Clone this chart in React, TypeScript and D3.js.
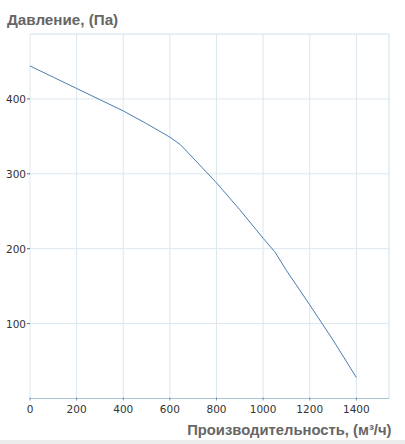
import React from "react";
import * as d3 from "d3";

const flowValues = [0, 100, 200, 300, 400, 500, 600, 645, 700, 800, 900, 1000, 1050, 1100, 1200, 1300, 1400];
const pressureValues = [444, 429, 414, 399, 384, 367, 349, 339, 321, 288, 252, 214, 196, 171, 125, 78, 28];
const xTicks = [0, 200, 400, 600, 800, 1000, 1200, 1400];
const yTicks = [100, 200, 300, 400];
const yTitle = "Давление, (Па)";
const xTitle = "Производительность, (м³/ч)";

const W = 405;
const H = 444;
const left = 30;
const right = 389;
const top = 34;
const bottom = 398.5;

export default function App() {
  const x = d3.scaleLinear().domain([0, 1540]).range([left, right]);
  const y = d3.scaleLinear().domain([0, 486.7]).range([bottom, top]);
  const pts: [number, number][] = flowValues.map((f, i) => [f, pressureValues[i]]);
  const line = d3
    .line<[number, number]>()
    .x((d) => x(d[0]))
    .y((d) => y(d[1]));
  const gridColor = "#dde7ee";
  const font = "'DejaVu Sans', Verdana, sans-serif";
  return (
    <svg
      width={W}
      height={H}
      style={{ position: "absolute", left: 0, top: 0, background: "#fff" }}
    >
      <rect x={0} y={440} width={W} height={4} fill="#ececec" />
      {xTicks.map((t) => (
        <line key={"vx" + t} x1={x(t)} x2={x(t)} y1={top} y2={bottom} stroke={gridColor} strokeWidth={1} />
      ))}
      <line x1={right} x2={right} y1={top} y2={bottom} stroke="#cfe0e8" strokeWidth={1} />
      {yTicks.map((t) => (
        <line key={"hy" + t} x1={left} x2={right} y1={y(t)} y2={y(t)} stroke={gridColor} strokeWidth={1} />
      ))}
      <line x1={left} x2={right} y1={top} y2={top} stroke="#cfe0e8" strokeWidth={1} />
      <line x1={left} x2={right} y1={bottom} y2={bottom} stroke="#a9c3d6" strokeWidth={1} />
      {xTicks.map((t) => (
        <line key={"xt" + t} x1={x(t)} x2={x(t)} y1={bottom - 1} y2={bottom + 2} stroke="#6f95b5" strokeWidth={1} />
      ))}
      {yTicks.map((t) => (
        <line key={"yt" + t} x1={left - 3} x2={left} y1={y(t)} y2={y(t)} stroke="#4a6f95" strokeWidth={1} />
      ))}
      <path d={line(pts) || ""} fill="none" stroke="#4a7db0" strokeWidth={1} />
      {xTicks.map((t) => (
        <text key={"xl" + t} x={x(t)} y={412.5} textAnchor="middle" fontFamily={font} fontSize={10.5} fill="#333">
          {t}
        </text>
      ))}
      {yTicks.map((t) => (
        <text key={"yl" + t} x={left - 4} y={y(t) + 4} textAnchor="end" fontFamily={font} fontSize={10.5} fill="#333">
          {t}
        </text>
      ))}
      <text x={7} y={25} fontFamily="'Liberation Sans', Arial, sans-serif" fontWeight="bold" fontSize={15.2} fill="#666">
        {yTitle}
      </text>
      <text x={391.5} y={435} textAnchor="end" fontFamily="'Liberation Sans', Arial, sans-serif" fontWeight="bold" fontSize={14.8} fill="#666">
        {xTitle}
      </text>
    </svg>
  );
}
